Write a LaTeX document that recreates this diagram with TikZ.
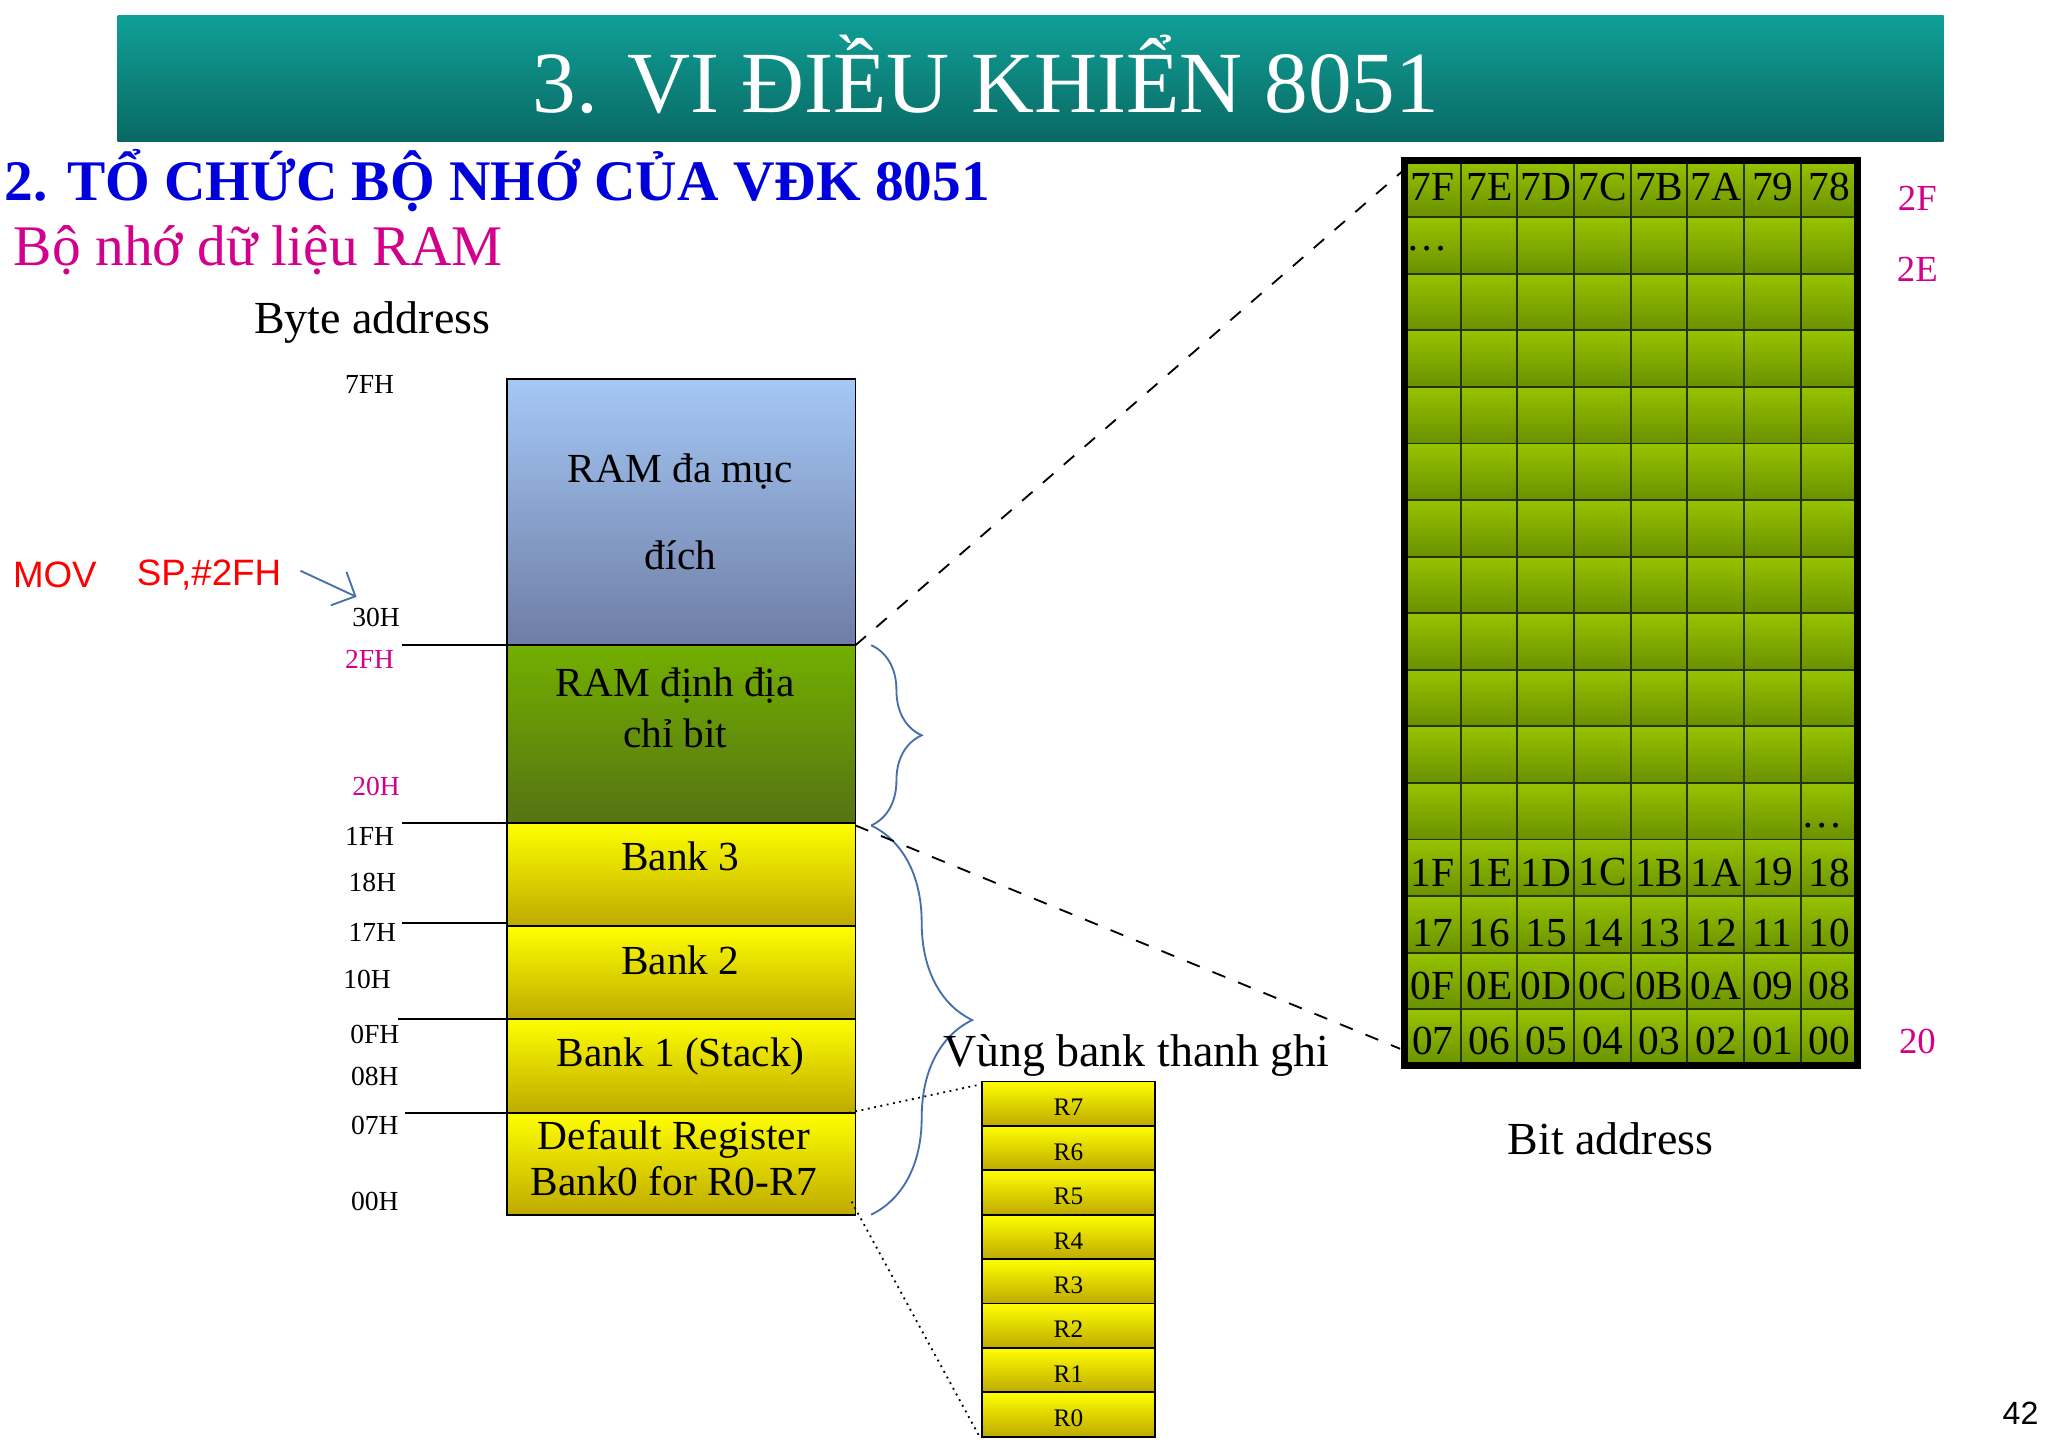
\documentclass[tikz,border=0pt]{standalone}
\usepackage{fontspec}
\setmainfont{Liberation Serif}
\newfontfamily\sansf{Liberation Sans}
\usetikzlibrary{decorations.pathreplacing,arrows.meta}
\definecolor{mag}{RGB}{210,0,140}
\definecolor{hblue}{RGB}{0,0,220}
\definecolor{brc}{RGB}{70,110,170}
\tikzset{
 ylw/.style={draw=black,top color={rgb,255:red,255;green,255;blue,0},bottom color={rgb,255:red,190;green,170;blue,0}},
 cell/.style={draw={rgb,255:red,40;green,50;blue,20},top color={rgb,255:red,150;green,195;blue,0},bottom color={rgb,255:red,105;green,145;blue,0}},
 lbl/.style={font=\fontsize{6}{7}\selectfont},
 btxt/.style={font=\fontsize{9}{11}\selectfont,align=center},
 gtxt/.style={font=\fontsize{9}{10}\selectfont,inner sep=0},
}
\begin{document}
\begin{tikzpicture}[x=0.01cm,y=-0.01cm]
\useasboundingbox (0,0) rectangle (1568,1110);
\fill[white] (0,0) rectangle (1568,1110);
% title
\shade[top color={rgb,255:red,15;green,160;blue,150},bottom color={rgb,255:red,10;green,105;blue,100}] (90,12) rectangle (1488,108);
\node[text=white,font=\fontsize{19}{22}\selectfont] (title) at (755,57) {3. VI ĐIỀU KHIỂN 8051};
\node[anchor=west,text=hblue,font=\fontsize{12.5}{15}\selectfont\bfseries,inner sep=0] (h1) at (3,138) {2. TỔ CHỨC BỘ NHỚ CỦA VĐK 8051};
\node[anchor=west,text=mag,font=\fontsize{12.5}{14}\selectfont,inner sep=0] (h2) at (10,192) {Bộ nhớ dữ liệu RAM};
\node[font=\fontsize{10}{12}\selectfont] (ba) at (285,247) {Byte address};
% left boxes
\shade[draw=black,top color={rgb,255:red,165;green,200;blue,245},bottom color={rgb,255:red,110;green,125;blue,165}] (388,290) rectangle (655,494);
\node[btxt] (b1) at (521,392) {RAM đa mục\\[8pt]đích};
\shade[draw=black,top color={rgb,255:red,115;green,175;blue,0},bottom color={rgb,255:red,85;green,115;blue,20}] (388,494) rectangle (655,630);
\node[btxt,inner sep=0] (b2) at (517,542) {RAM định địa\\chỉ bit};
\shade[ylw] (388,630) rectangle (655,709);
\node[btxt] (b3) at (521,656) {Bank 3};
\shade[ylw] (388,709) rectangle (655,780);
\node[btxt] (b4) at (521,735) {Bank 2};
\shade[ylw] (388,780) rectangle (655,852);
\node[btxt] (b5) at (521,809) {Bank 1 (Stack)};
\shade[ylw] (388,852) rectangle (655,930);
\node[btxt,inner sep=0,font=\fontsize{9}{10}\selectfont] (b6) at (516,887) {Default Register\\Bank0 for R0-R7};
% lines
\draw (308,494)--(388,494);
\draw (308,630)--(388,630);
\draw (308,707)--(388,707);
\draw (305,780)--(388,780);
\draw (310,852)--(388,852);
% labels
\node[lbl] at (283,294) {7FH};
\node[lbl] at (288,473) {30H};
\node[lbl,text=mag] at (283,505) {2FH};
\node[lbl,text=mag] at (288,602) {20H};
\node[lbl] at (283,640) {1FH};
\node[lbl] at (285,676) {18H};
\node[lbl] at (285,714) {17H};
\node[lbl] at (281,750) {10H};
\node[lbl] at (287,792) {0FH};
\node[lbl] at (287,824) {08H};
\node[lbl] at (287,862) {07H};
\node[lbl] at (287,920) {00H};
\node[text=red,font=\sansf\fontsize{8}{10}\selectfont] (mov) at (42,440) {MOV};
\node[text=red,font=\sansf\fontsize{8}{10}\selectfont] (sp) at (160,440) {SP,\#2FH};
\coordinate (a1) at (230,437); \coordinate (a2) at (273,457);
\draw[brc,-{Straight Barb[length=4pt]}] (a1) -- (a2);
% braces
\draw[brc,decorate,decoration={brace,amplitude=11pt}] (667,494) -- (667,632);
\draw[brc,decorate,decoration={brace,amplitude=22pt}] (667,632) -- (667,930);
% dashed
\draw[dashed] (655,494) -- (1075,130);
\draw[dashed] (655,632) -- (1072,803);
\draw[densely dotted] (650,852) -- (752,830);
\draw[densely dotted] (652,920) -- (750,1100);
\node[font=\fontsize{10}{12}\selectfont] (vb) at (870,808) {Vùng bank thanh ghi};
% registers
\foreach \r [count=\i from 0] in {R7,R6,R5,R4,R3,R2,R1,R0}{
  \shade[ylw] (752,{828+34*\i}) rectangle (884,{828+34*(\i+1)});
  \node[font=\fontsize{5.5}{6}\selectfont] at (818,{848+34*\i}) {\r};
}
% grid
\foreach \j in {0,...,15}{\foreach \i in {0,...,7}{
  \shade[cell] ({1075+43.375*\i},{123+43.3125*\j}) rectangle ({1075+43.375*(\i+1)},{123+43.3125*(\j+1)});
}}
\draw[line width=1.5pt] (1075,123) rectangle (1422,816);
\foreach \t [count=\i from 0] in {7F,7E,7D,7C,7B,7A,79,78}{\node[gtxt] at ({1097+43.375*\i},{143}) {\t};}
\foreach \t [count=\i from 0] in {1F,1E,1D,1C,1B,1A,19,18}{\node[gtxt] at ({1097+43.375*\i},{668}) {\t};}
\foreach \t [count=\i from 0] in {17,16,15,14,13,12,11,10}{\node[gtxt] at ({1097+43.375*\i},{714}) {\t};}
\foreach \t [count=\i from 0] in {0F,0E,0D,0C,0B,0A,09,08}{\node[gtxt] at ({1097+43.375*\i},{755}) {\t};}
\foreach \t [count=\i from 0] in {07,06,05,04,03,02,01,00}{\node[gtxt] at ({1097+43.375*\i},{797}) {\t};}
\node[gtxt] at (1093,190) {\dots};
\node[gtxt] at (1395,632) {\dots};
\node[text=mag,font=\fontsize{8}{10}\selectfont] at (1468,152) {2F};
\node[text=mag,font=\fontsize{8}{10}\selectfont] at (1468,206) {2E};
\node[text=mag,font=\fontsize{8}{10}\selectfont] at (1468,797) {20};
\node[font=\fontsize{10}{12}\selectfont] (bita) at (1233,872) {Bit address};
\node[font=\sansf\fontsize{7}{8}\selectfont] at (1547,1082) {42};
\end{tikzpicture}
\end{document}
